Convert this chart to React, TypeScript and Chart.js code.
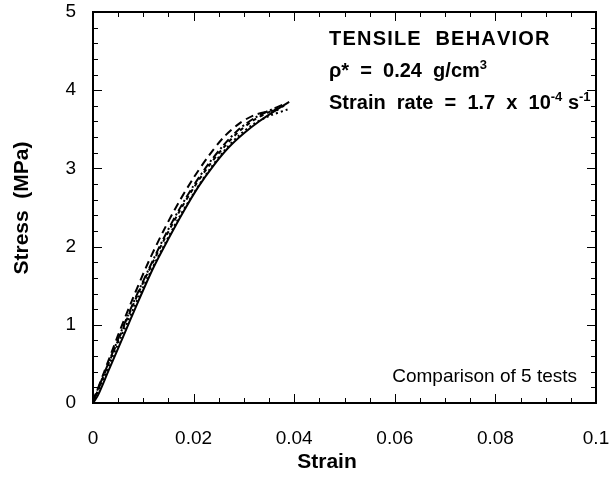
import React, { useEffect, useRef } from "react";
import { Chart, registerables } from "chart.js";

Chart.register(...registerables);

// ---- Data ----
const solidStrain = [0, 0.001, 0.003, 0.006, 0.009, 0.012, 0.015, 0.018, 0.021, 0.024, 0.027, 0.030, 0.033, 0.036, 0.039];
const solidStress = [0, 0.1, 0.4, 0.85, 1.3, 1.73, 2.1, 2.45, 2.77, 3.04, 3.27, 3.45, 3.6, 3.73, 3.85];

const longDashStrain = [0, 0.002, 0.005, 0.008, 0.011, 0.014, 0.017, 0.020, 0.023, 0.026, 0.029, 0.032, 0.035, 0.037];
const longDashStress = [0.02, 0.36, 0.87, 1.35, 1.8, 2.2, 2.56, 2.88, 3.16, 3.4, 3.57, 3.68, 3.73, 3.75];

const shortDashStrain = [0, 0.002, 0.005, 0.008, 0.011, 0.014, 0.017, 0.020, 0.023, 0.026, 0.029, 0.032, 0.035, 0.038];
const shortDashStress = [0, 0.33, 0.8, 1.26, 1.68, 2.07, 2.43, 2.75, 3.03, 3.27, 3.47, 3.62, 3.72, 3.8];

const dottedStrain = [0, 0.002, 0.005, 0.008, 0.011, 0.014, 0.017, 0.020, 0.023, 0.026, 0.029, 0.032, 0.035, 0.039];
const dottedStress = [0, 0.3, 0.76, 1.2, 1.62, 2.0, 2.36, 2.68, 2.97, 3.22, 3.42, 3.57, 3.67, 3.76];

const dashDotStrain = [0, 0.002, 0.005, 0.008, 0.011, 0.014, 0.017, 0.020, 0.023, 0.026, 0.029, 0.032, 0.035, 0.038];
const dashDotStress = [0.03, 0.34, 0.82, 1.28, 1.7, 2.1, 2.46, 2.78, 3.06, 3.3, 3.5, 3.64, 3.74, 3.82];

const xTicks = [0, 0.02, 0.04, 0.06, 0.08, 0.1];
const yTicks = [0, 1, 2, 3, 4, 5];

const FONT = "'Liberation Sans', Arial, Helvetica, sans-serif";

function pts(xs: number[], ys: number[]) {
  return xs.map((x, i) => ({ x, y: ys[i] }));
}

// draw a sequence of [text, isSuperscript] parts, stretched with letter spacing to a target width
function drawRich(ctx: any, parts: [string, boolean][], x0: number, base: number, target: number) {
  const big = `bold 20px ${FONT}`;
  const small = `bold 13px ${FONT}`;
  let natural = 0;
  let chars = 0;
  for (const [t, sup] of parts) {
    ctx.font = sup ? small : big;
    natural += ctx.measureText(t).width;
    chars += t.length;
  }
  const sp = Math.max(0, (target - natural) / Math.max(1, chars - 1));
  let x = x0;
  for (const [t, sup] of parts) {
    ctx.font = sup ? small : big;
    for (const ch of t) {
      ctx.fillText(ch, x, sup ? base - 8 : base);
      x += ctx.measureText(ch).width + sp;
    }
  }
}

const framePlugin = {
  id: "frame",
  afterDraw(chart: any) {
    const { ctx, chartArea } = chart;
    const xs = chart.scales.x;
    const ys = chart.scales.y;
    const { left, right, top, bottom } = chartArea;
    ctx.save();
    ctx.strokeStyle = "#000";
    ctx.lineWidth = 2;
    ctx.strokeRect(left, top, right - left, bottom - top);
    ctx.lineWidth = 1;
    for (let i = 0; i <= 20; i++) {
      const v = i * 0.005;
      const px = Math.round(xs.getPixelForValue(v)) + 0.5;
      const len = i % 4 === 0 ? 9 : 5;
      ctx.beginPath();
      ctx.moveTo(px, bottom);
      ctx.lineTo(px, bottom - len);
      ctx.moveTo(px, top);
      ctx.lineTo(px, top + len);
      ctx.stroke();
    }
    for (let i = 0; i <= 25; i++) {
      const v = i * 0.2;
      const py = Math.round(ys.getPixelForValue(v)) + 0.5;
      const len = i % 5 === 0 ? 9 : 5;
      ctx.beginPath();
      ctx.moveTo(left, py);
      ctx.lineTo(left + len, py);
      ctx.moveTo(right, py);
      ctx.lineTo(right - len, py);
      ctx.stroke();
    }
    ctx.fillStyle = "#000";
    ctx.textBaseline = "alphabetic";
    ctx.textAlign = "left";
    drawRich(ctx, [["TENSILE  BEHAVIOR", false]], 329, 45, 219);
    drawRich(ctx, [["ρ*  =  0.24  g/cm", false], ["3", true]], 329, 77, 158);
    drawRich(ctx, [["Strain  rate  =  1.7  x  10", false], ["-4", true], [" s", false], ["-1", true]], 329, 109, 248);

    ctx.font = `19px ${FONT}`;
    ctx.textAlign = "right";
    ctx.fillText("Comparison of 5 tests", 577, 382);

    ctx.font = `bold 21px ${FONT}`;
    ctx.textAlign = "center";
    ctx.textBaseline = "middle";
    ctx.fillText("Strain", 327, 462);
    ctx.save();
    ctx.translate(22, 208);
    ctx.rotate(-Math.PI / 2);
    ctx.fillText("Stress  (MPa)", 0, 0);
    ctx.restore();
    ctx.restore();
  },
};

export default function App() {
  const ref = useRef<HTMLCanvasElement>(null);
  useEffect(() => {
    if (!ref.current) return;
    const common = { borderColor: "#000", borderWidth: 2, pointRadius: 0, fill: false, tension: 0.3 };
    const chart = new Chart(ref.current, {
      type: "line",
      data: {
        datasets: [
          { ...common, label: "Test 1", data: pts(solidStrain, solidStress) },
          { ...common, label: "Test 2", data: pts(longDashStrain, longDashStress), borderDash: [8, 5] },
          { ...common, label: "Test 3", data: pts(shortDashStrain, shortDashStress), borderDash: [4, 4] },
          { ...common, label: "Test 4", data: pts(dottedStrain, dottedStress), borderDash: [2, 3] },
          { ...common, label: "Test 5", data: pts(dashDotStrain, dashDotStress), borderDash: [8, 3, 2, 3] },
        ],
      },
      options: {
        animation: false,
        responsive: false,
        maintainAspectRatio: false,
        layout: { padding: { top: 12, right: 15, left: 0, bottom: 0 } },
        plugins: { legend: { display: false }, tooltip: { enabled: false } },
        scales: {
          x: {
            type: "linear",
            min: 0,
            max: 0.1,
            afterBuildTicks: (s: any) => { s.ticks = xTicks.map((v) => ({ value: v })); },
            afterFit: (s: any) => { s.height = 95; s.paddingLeft = 0; s.paddingRight = 0; },
            grid: { display: false, drawTicks: false },
            border: { display: false },
            ticks: {
              color: "#000",
              padding: 24,
              font: { family: FONT, size: 19 },
              maxRotation: 0,
              autoSkip: false,
              callback: (v: any) => String(Number(Number(v).toFixed(2))),
            },
          },
          y: {
            type: "linear",
            min: 0,
            max: 5,
            afterBuildTicks: (s: any) => { s.ticks = yTicks.map((v) => ({ value: v })); },
            afterFit: (s: any) => { s.width = 93; s.paddingTop = 0; s.paddingBottom = 0; },
            grid: { display: false, drawTicks: false },
            border: { display: false },
            ticks: {
              color: "#000",
              padding: 17,
              font: { family: FONT, size: 19 },
              callback: (v: any) => String(v),
            },
          },
        },
      },
      plugins: [framePlugin],
    });
    return () => chart.destroy();
  }, []);
  return (
    <div style={{ position: "fixed", left: 0, top: 0, width: 611, height: 498, background: "#fff" }}>
      <canvas ref={ref} width={611} height={498} style={{ width: 611, height: 498 }} />
    </div>
  );
}
